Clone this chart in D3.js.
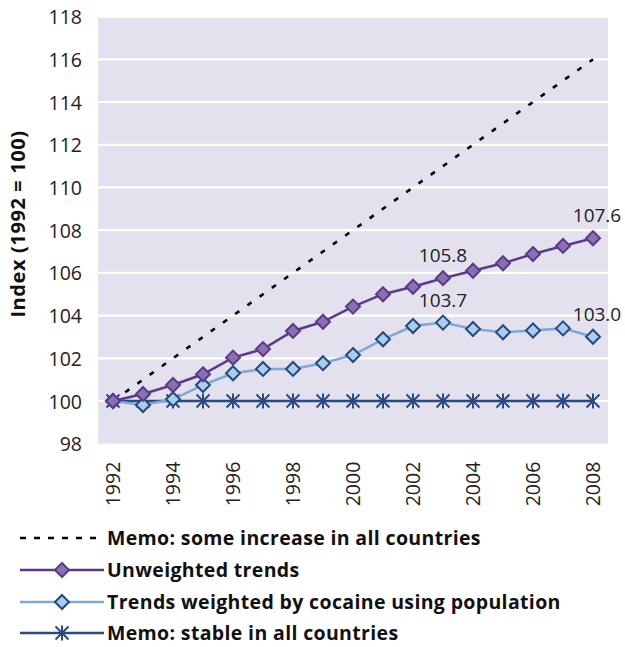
<!DOCTYPE html>
<html><head><meta charset="utf-8">
<script src="https://cdn.jsdelivr.net/npm/d3@7"></script>
<style>body{margin:0;background:#fff;}svg{display:block;font-family:"Open Sans",sans-serif;}</style>
</head><body>
<svg id="c" width="625" height="647"></svg>
<script>
const years = [1992,1993,1994,1995,1996,1997,1998,1999,2000,2001,2002,2003,2004,2005,2006,2007,2008];
const memoIncrease = [100,101,102,103,104,105,106,107,108,109,110,111,112,113,114,115,116];
const unweighted = [100,100.33,100.75,101.25,102.03,102.43,103.28,103.71,104.42,105.0,105.35,105.75,106.1,106.45,106.88,107.26,107.62];
const weighted = [100,99.81,100.08,100.75,101.3,101.5,101.5,101.77,102.15,102.89,103.51,103.67,103.37,103.22,103.3,103.4,103.01];
const stable = [100,100,100,100,100,100,100,100,100,100,100,100,100,100,100,100,100];
const yTicks = [98,100,102,104,106,108,110,112,114,116,118];
const xTickLabels = ["1992","1994","1996","1998","2000","2002","2004","2006","2008"];
const annotations = [
  {series:"unweighted", year:2003, text:"105.8"},
  {series:"unweighted", year:2008, text:"107.6"},
  {series:"weighted", year:2003, text:"103.7"},
  {series:"weighted", year:2008, text:"103.0"}
];
const legendLabels = ["Memo: some increase in all countries","Unweighted trends","Trends weighted by cocaine using population","Memo: stable in all countries"];

const svg = d3.select("#c");
const L=98, R=608, T=16.6, B=443.7;
const x = d3.scaleBand().domain(years).range([L,R]);
const cx = d => x(d)+x.bandwidth()/2;
const y = d3.scaleLinear().domain([98,118]).range([B,T]);

svg.append("rect").attr("x",L).attr("y",y(118)+1.4).attr("width",R-L).attr("height",B-y(118)-1.4).attr("fill","#e3e1ed");
svg.append("g").selectAll("line").data(yTicks.filter(t=>t>98&&t<118)).join("line")
  .attr("x1",L).attr("x2",R).attr("y1",d=>y(d)).attr("y2",d=>y(d)).attr("stroke","#fff").attr("stroke-width",2.2);

// y axis
const ya = svg.append("g").attr("transform",`translate(${L-16},0)`).call(d3.axisLeft(y).tickValues(yTicks).tickSize(0).tickPadding(0));
ya.select(".domain").remove();
ya.selectAll("text").attr("font-size",19.5).attr("fill","#222").attr("font-family","Open Sans").attr("dy","0.36em");

// x axis
const xa = svg.append("g").attr("transform",`translate(0,${B})`).call(d3.axisBottom(x).tickValues(years.filter(yv=>xTickLabels.includes(String(yv)))).tickSize(0).tickPadding(0));
xa.select(".domain").remove();
xa.selectAll("text").attr("font-size",19.5).attr("fill","#222").attr("font-family","Open Sans")
  .attr("transform","rotate(-90)").attr("text-anchor","end").attr("x",-18).attr("y",0).attr("dy","0.36em").attr("dx",0);

// y title
svg.append("text").attr("transform","translate(18,224) rotate(-90)").attr("text-anchor","middle").attr("dy","0.36em")
  .attr("font-size",20).attr("font-weight","bold").attr("letter-spacing",0.6).attr("fill","#111").text("Index (1992 = 100)");

const line = d3.line().x((d,i)=>cx(years[i])).y(d=>y(d));

const cStable="#2b4a80", cUnw="#5b3a8c", cUnwFill="#8a70b3", cW="#7fa8d9", cWFill="#a9cdee", cWStroke="#26497c";

// memo increase dotted
svg.append("path").datum(memoIncrease).attr("d",line).attr("fill","none").attr("stroke","#000").attr("stroke-width",2.6).attr("stroke-dasharray","5,10");

function diamond(g, px, py, fill, stroke){
  const s=7;
  g.append("path").attr("d",`M${px},${py-s}L${px+s},${py}L${px},${py+s}L${px-s},${py}Z`).attr("fill",fill).attr("stroke",stroke).attr("stroke-width",2);
}
function star(g, px, py, col){
  const s=6.5, v=7.5;
  g.append("path").attr("d",`M${px-s},${py-s}L${px+s},${py+s}M${px-s},${py+s}L${px+s},${py-s}M${px},${py-v}L${px},${py+v}`).attr("stroke",col).attr("stroke-width",2).attr("fill","none");
}

// stable
svg.append("path").datum(stable).attr("d",line).attr("fill","none").attr("stroke",cStable).attr("stroke-width",2.5);
const gs = svg.append("g");
stable.forEach((v,i)=>star(gs,cx(years[i]),y(v),cStable));

// weighted
svg.append("path").datum(weighted).attr("d",line).attr("fill","none").attr("stroke",cW).attr("stroke-width",2.5);
const gw = svg.append("g");
weighted.forEach((v,i)=>diamond(gw,cx(years[i]),y(v),cWFill,cWStroke));

// unweighted
svg.append("path").datum(unweighted).attr("d",line).attr("fill","none").attr("stroke",cUnw).attr("stroke-width",2.5);
const gu = svg.append("g");
unweighted.forEach((v,i)=>diamond(gu,cx(years[i]),y(v),cUnwFill,cUnw));

// annotations
const seriesMap = {unweighted, weighted};
annotations.forEach(a=>{
  const i = years.indexOf(a.year);
  svg.append("text").attr("x",cx(a.year)+(a.year===2008?4:0)).attr("y",y(seriesMap[a.series][i])-16)
    .attr("text-anchor","middle").attr("font-size",19).attr("fill","#222").text(a.text);
});

// legend
const lg = svg.append("g");
const ly = [538,570,602,633];
legendLabels.forEach((t,i)=>{
  const yy = ly[i];
  if(i===0){
    lg.append("line").attr("x1",20).attr("x2",104).attr("y1",yy).attr("y2",yy).attr("stroke","#000").attr("stroke-width",2.6).attr("stroke-dasharray","6,8");
  } else {
    const col = i===1?cUnw:(i===2?cW:cStable);
    lg.append("line").attr("x1",20).attr("x2",104).attr("y1",yy).attr("y2",yy).attr("stroke",col).attr("stroke-width",2.5);
    if(i===1) diamond(lg,62,yy,cUnwFill,cUnw);
    if(i===2) diamond(lg,62,yy,cWFill,cWStroke);
    if(i===3) star(lg,62,yy,cStable);
  }
  lg.append("text").attr("x",107).attr("y",yy).attr("dy","0.36em").attr("font-size",19.5).attr("letter-spacing",0.35).attr("font-weight","bold").attr("fill","#111").text(t);
});
</script>
</body></html>
